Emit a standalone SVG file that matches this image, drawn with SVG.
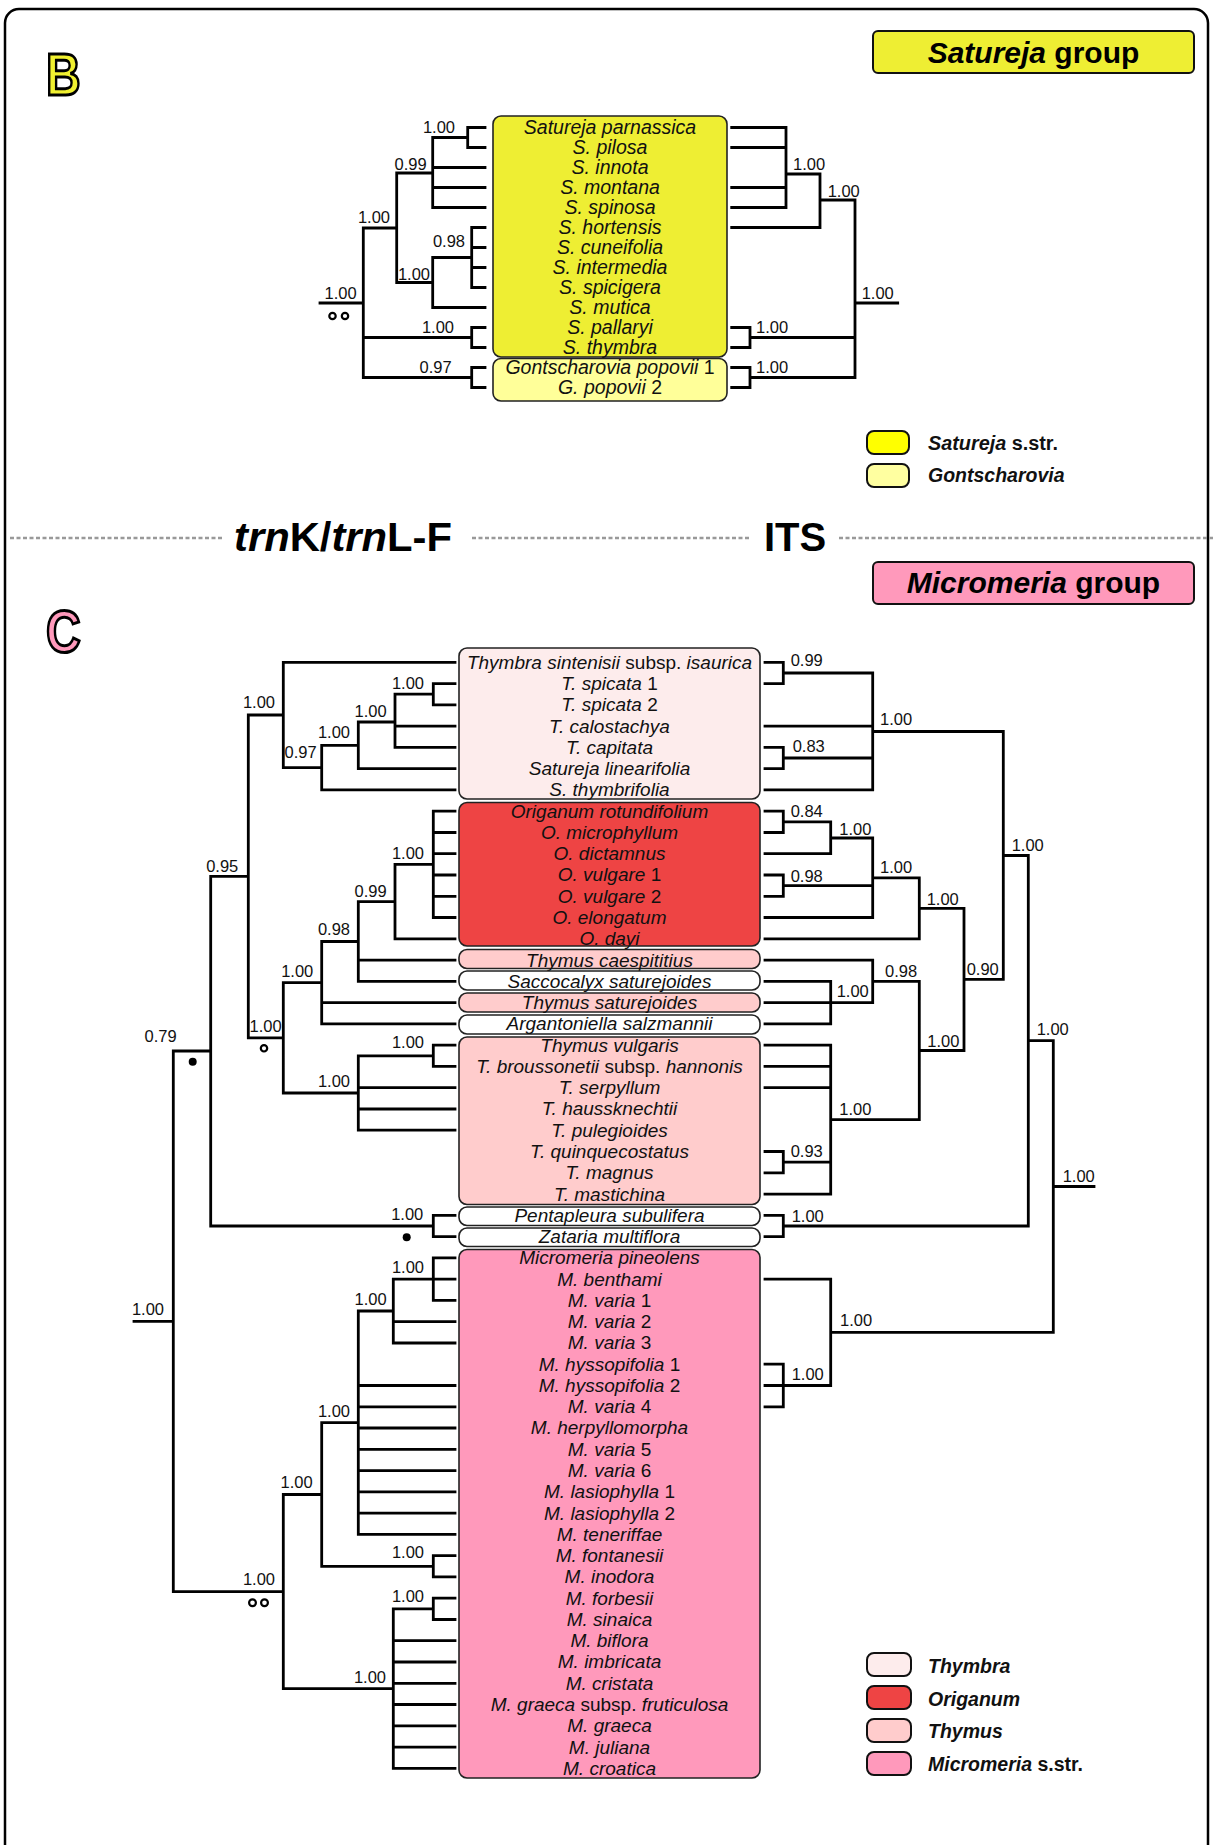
<svg xmlns="http://www.w3.org/2000/svg" width="1213" height="1845" viewBox="0 0 1213 1845">
<style>
.ln{fill:none;stroke:#000;stroke-width:2.8;stroke-linecap:square}
.bx{stroke:#222;stroke-width:1.6}
.tx{font-family:'Liberation Sans',Arial,sans-serif;font-size:19px;font-style:italic;text-anchor:middle;fill:#111}
.tb{font-size:19.5px}
.n{font-style:normal}
.pp{font-family:'Liberation Sans',Arial,sans-serif;font-size:16.5px;fill:#111}
.pe{text-anchor:end}
.lg{font-family:'Liberation Sans',Arial,sans-serif;font-size:19.5px;font-weight:bold;fill:#111}
.it{font-style:italic}
.hd{font-family:'Liberation Sans',Arial,sans-serif;font-weight:bold;fill:#000}
.dash{stroke:#999;stroke-width:2.5;stroke-dasharray:4 2.5;fill:none}
.big{font-family:'Liberation Sans',Arial,sans-serif;font-weight:bold;font-size:60px;stroke:#000;stroke-width:3}
.sym{fill:none;stroke:#000;stroke-width:2.2}
</style>
<rect x="0" y="0" width="1213" height="1845" fill="#fff"/>
<rect x="5" y="9" width="1203" height="1870" rx="14" fill="none" stroke="#000" stroke-width="2.5"/>

<g id="label-B"><text class="big" x="0" y="95" fill="#F0F030" transform="translate(46,0) scale(0.8,1)">B</text></g>
<g id="label-C"><text class="big" x="0" y="652" fill="#FF99BB" transform="translate(46,0) scale(0.8,1)">C</text></g>

<g id="title-satureja-group">
<rect x="873" y="31" width="321" height="42" rx="5" fill="#EEEE33" stroke="#111" stroke-width="2"/>
<text class="hd" x="1033.5" y="63" font-size="30" text-anchor="middle"><tspan class="it">Satureja</tspan> group</text>
</g>
<g id="title-micromeria-group">
<rect x="873" y="562" width="321" height="42" rx="5" fill="#FF99BB" stroke="#111" stroke-width="2"/>
<text class="hd" x="1033.5" y="593" font-size="30" text-anchor="middle"><tspan class="it">Micromeria</tspan> group</text>
</g>

<g id="divider">
<path class="dash" d="M10,538H222M472,538H751M839,538H1213"/>
<text class="hd" x="234" y="551" font-size="40" textLength="218" lengthAdjust="spacingAndGlyphs"><tspan class="it">trn</tspan>K/<tspan class="it">trn</tspan>L-F</text>
<text class="hd" x="764" y="551" font-size="40">ITS</text>
</g>

<g id="legend-B">
<rect x="867" y="431" width="42" height="23" rx="7" fill="#FFFF00" stroke="#111" stroke-width="2"/>
<rect x="867" y="464" width="42" height="23" rx="7" fill="#FFFFA0" stroke="#111" stroke-width="2"/>
<text class="lg" x="928" y="450" textLength="130" lengthAdjust="spacingAndGlyphs"><tspan class="it">Satureja</tspan> s.str.</text>
<text class="lg it" x="928" y="482">Gontscharovia</text>
</g>
<g id="legend-C">
<rect x="867" y="1653" width="44" height="23" rx="7" fill="#FDECEC" stroke="#111" stroke-width="2"/>
<rect x="867" y="1686" width="44" height="23" rx="7" fill="#EE4444" stroke="#111" stroke-width="2"/>
<rect x="867" y="1719" width="44" height="23" rx="7" fill="#FFCCCC" stroke="#111" stroke-width="2"/>
<rect x="867" y="1752" width="44" height="23" rx="7" fill="#FF99BB" stroke="#111" stroke-width="2"/>
<text class="lg it" x="928" y="1673">Thymbra</text>
<text class="lg it" x="928" y="1706">Origanum</text>
<text class="lg it" x="928" y="1738">Thymus</text>
<text class="lg" x="928" y="1771"><tspan class="it">Micromeria</tspan> s.str.</text>
</g>

<!-- B boxes -->
<g id="box-satureja">
<rect class="bx" x="493" y="116" width="234" height="241" rx="8" fill="#EEEE33"/>
<text class="tx tb" x="610" y="134">Satureja parnassica</text>
<text class="tx tb" x="610" y="154">S. pilosa</text>
<text class="tx tb" x="610" y="174">S. innota</text>
<text class="tx tb" x="610" y="194">S. montana</text>
<text class="tx tb" x="610" y="214">S. spinosa</text>
<text class="tx tb" x="610" y="234">S. hortensis</text>
<text class="tx tb" x="610" y="254">S. cuneifolia</text>
<text class="tx tb" x="610" y="274">S. intermedia</text>
<text class="tx tb" x="610" y="294">S. spicigera</text>
<text class="tx tb" x="610" y="314">S. mutica</text>
<text class="tx tb" x="610" y="334">S. pallaryi</text>
<text class="tx tb" x="610" y="354">S. thymbra</text>
</g>
<g id="box-gontscharovia">
<rect class="bx" x="493" y="358.5" width="234" height="42.5" rx="8" fill="#FFFF99"/>
<text class="tx tb" x="610" y="374">Gontscharovia popovii <tspan class="n">1</tspan></text>
<text class="tx tb" x="610" y="394">G. popovii <tspan class="n">2</tspan></text>
</g>

<!-- C boxes -->
<g id="box-thymbra">
<rect class="bx" x="459" y="648" width="301" height="151" rx="8" fill="#FDECEC"/>
<text class="tx" x="609.5" y="668.7">Thymbra sintenisii <tspan class="n">subsp.</tspan> isaurica</text>
<text class="tx" x="609.5" y="690">T. spicata <tspan class="n">1</tspan></text>
<text class="tx" x="609.5" y="711.2">T. spicata <tspan class="n">2</tspan></text>
<text class="tx" x="609.5" y="732.5">T. calostachya</text>
<text class="tx" x="609.5" y="753.8">T. capitata</text>
<text class="tx" x="609.5" y="775.1">Satureja linearifolia</text>
<text class="tx" x="609.5" y="796.3">S. thymbrifolia</text>
</g>
<g id="box-origanum">
<rect class="bx" x="459" y="802.5" width="301" height="143.5" rx="8" fill="#EE4444"/>
<text class="tx" x="609.5" y="817.6">Origanum rotundifolium</text>
<text class="tx" x="609.5" y="838.9">O. microphyllum</text>
<text class="tx" x="609.5" y="860.1">O. dictamnus</text>
<text class="tx" x="609.5" y="881.4">O. vulgare <tspan class="n">1</tspan></text>
<text class="tx" x="609.5" y="902.7">O. vulgare <tspan class="n">2</tspan></text>
<text class="tx" x="609.5" y="923.9">O. elongatum</text>
<text class="tx" x="609.5" y="945.2">O. dayi</text>
</g>
<g id="box-thymus-caespititius">
<rect class="bx" x="459" y="949.5" width="301" height="19" rx="8" fill="#FFCCCC"/>
<text class="tx" x="609.5" y="966.5">Thymus caespititius</text>
</g>
<g id="box-saccocalyx">
<rect class="bx" x="459" y="971" width="301" height="19" rx="8" fill="#FFFFFF"/>
<text class="tx" x="609.5" y="987.8">Saccocalyx saturejoides</text>
</g>
<g id="box-thymus-saturejoides">
<rect class="bx" x="459" y="993" width="301" height="19" rx="8" fill="#FFCCCC"/>
<text class="tx" x="609.5" y="1009">Thymus saturejoides</text>
</g>
<g id="box-argantoniella">
<rect class="bx" x="459" y="1015" width="301" height="19" rx="8" fill="#FFFFFF"/>
<text class="tx" x="609.5" y="1030.3">Argantoniella salzmannii</text>
</g>
<g id="box-thymus">
<rect class="bx" x="459" y="1037" width="301" height="167.5" rx="8" fill="#FFCCCC"/>
<text class="tx" x="609.5" y="1051.6">Thymus vulgaris</text>
<text class="tx" x="609.5" y="1072.8">T. broussonetii <tspan class="n">subsp.</tspan> hannonis</text>
<text class="tx" x="609.5" y="1094.1">T. serpyllum</text>
<text class="tx" x="609.5" y="1115.4">T. haussknechtii</text>
<text class="tx" x="609.5" y="1136.6">T. pulegioides</text>
<text class="tx" x="609.5" y="1157.9">T. quinquecostatus</text>
<text class="tx" x="609.5" y="1179.2">T. magnus</text>
<text class="tx" x="609.5" y="1200.5">T. mastichina</text>
</g>
<g id="box-pentapleura">
<rect class="bx" x="459" y="1207" width="301" height="18.5" rx="8" fill="#FFFFFF"/>
<text class="tx" x="609.5" y="1221.7">Pentapleura subulifera</text>
</g>
<g id="box-zataria">
<rect class="bx" x="459" y="1228" width="301" height="18.5" rx="8" fill="#FFFFFF"/>
<text class="tx" x="609.5" y="1243">Zataria multiflora</text>
</g>
<g id="box-micromeria">
<rect class="bx" x="459" y="1249.5" width="301" height="528.5" rx="8" fill="#FF99BB"/>
<text class="tx" x="609.5" y="1264.3">Micromeria pineolens</text>
<text class="tx" x="609.5" y="1285.5">M. benthami</text>
<text class="tx" x="609.5" y="1306.8">M. varia <tspan class="n">1</tspan></text>
<text class="tx" x="609.5" y="1328.1">M. varia <tspan class="n">2</tspan></text>
<text class="tx" x="609.5" y="1349.4">M. varia <tspan class="n">3</tspan></text>
<text class="tx" x="609.5" y="1370.6">M. hyssopifolia <tspan class="n">1</tspan></text>
<text class="tx" x="609.5" y="1391.9">M. hyssopifolia <tspan class="n">2</tspan></text>
<text class="tx" x="609.5" y="1413.2">M. varia <tspan class="n">4</tspan></text>
<text class="tx" x="609.5" y="1434.4">M. herpyllomorpha</text>
<text class="tx" x="609.5" y="1455.7">M. varia <tspan class="n">5</tspan></text>
<text class="tx" x="609.5" y="1477">M. varia <tspan class="n">6</tspan></text>
<text class="tx" x="609.5" y="1498.2">M. lasiophylla <tspan class="n">1</tspan></text>
<text class="tx" x="609.5" y="1519.5">M. lasiophylla <tspan class="n">2</tspan></text>
<text class="tx" x="609.5" y="1540.8">M. teneriffae</text>
<text class="tx" x="609.5" y="1562">M. fontanesii</text>
<text class="tx" x="609.5" y="1583.3">M. inodora</text>
<text class="tx" x="609.5" y="1604.6">M. forbesii</text>
<text class="tx" x="609.5" y="1625.9">M. sinaica</text>
<text class="tx" x="609.5" y="1647.1">M. biflora</text>
<text class="tx" x="609.5" y="1668.4">M. imbricata</text>
<text class="tx" x="609.5" y="1689.7">M. cristata</text>
<text class="tx" x="609.5" y="1710.9">M. graeca <tspan class="n">subsp.</tspan> fruticulosa</text>
<text class="tx" x="609.5" y="1732.2">M. graeca</text>
<text class="tx" x="609.5" y="1753.5">M. juliana</text>
<text class="tx" x="609.5" y="1774.7">M. croatica</text>
</g>

<g id="connectors">
<path id="tree-B-left" class="ln" d="M320,303H363.3M363.3,228V377.5M363.3,228H396.7M396.7,173V282.5M396.7,173H432.7M432.7,137.5V207.5M432.7,137.5H467.7M467.7,127.5V147.5M467.7,127.5H485M467.7,147.5H485M432.7,167.5H485M432.7,187.5H485M432.7,207.5H485M396.7,282.5H432.7M432.7,257.5V307.5M432.7,257.5H471.7M471.7,227.5V287.5M471.7,227.5H485M471.7,247.5H485M471.7,267.5H485M471.7,287.5H485M432.7,307.5H485M363.3,337.5H471.7M471.7,327.5V347.5M471.7,327.5H485M471.7,347.5H485M363.3,377.5H471.7M471.7,367.5V387.5M471.7,367.5H485M471.7,387.5H485"/>
<path id="tree-B-right" class="ln" d="M731.7,127.5H786M731.7,147.5H786M731.7,187.5H786M731.7,207.5H786M786,127.5V207.5M786,174H820M820,174V227.5M731.7,227.5H820M820,200H855M855,200V377.5M855,303H897.7M731.7,327.5H750M731.7,347.5H750M750,327.5V347.5M750,337.5H855M731.7,367.5H750M731.7,387.5H750M750,367.5V387.5M750,377.5H855"/>
<path id="tree-C-left" class="ln" d="M283.3,662.3H455M283.3,662.3V767.6M248.3,715H283.3M283.3,767.6H321.7M321.7,745.3V789.9M321.7,789.9H455M321.7,745.3H358.3M358.3,722V768.7M358.3,768.7H455M358.3,722H395M395,694.2V747.4M395,726.1H455M395,747.4H455M395,694.2H433.3M433.3,683.6V704.8M433.3,683.6H455M433.3,704.8H455
M248.3,715V1037.9M210.7,876.3H248.3
M433.3,811.2V917.5M433.3,811.2H455M433.3,832.5H455M433.3,853.7H455M433.3,875H455M433.3,896.3H455M433.3,917.5H455M395,864.4H433.3M395,864.4V938.8M395,938.8H455M358.3,901.6H395M358.3,901.6V981.4M358.3,960.1H455M358.3,981.4H455M321.7,941.5H358.3M321.7,941.5V1023.9M321.7,1002.6H455M321.7,1023.9H455M283.3,982.7H321.7M283.3,982.7V1093M248.3,1037.9H283.3M283.3,1093H358.3M358.3,1055.8V1130.2M358.3,1055.8H433.3M433.3,1045.2V1066.4M433.3,1045.2H455M433.3,1066.4H455M358.3,1087.7H455M358.3,1109H455M358.3,1130.2H455
M210.7,876.3V1226M210.7,1226H433.3M433.3,1215.3V1236.6M433.3,1215.3H455M433.3,1236.6H455M173.3,1051H210.7M173.3,1051V1591.6M134,1321.3H173.3
M433.3,1257.9V1300.4M433.3,1257.9H455M433.3,1279.1H455M433.3,1300.4H455M393.3,1279.1H433.3M393.3,1279.1V1343M393.3,1321.7H455M393.3,1343H455M358.3,1311H393.3M358.3,1311V1534.4M358.3,1385.5H455M358.3,1406.8H455M358.3,1428H455M358.3,1449.3H455M358.3,1470.6H455M358.3,1491.8H455M358.3,1513.1H455M358.3,1534.4H455M321.7,1422.7H358.3M321.7,1422.7V1566.3M321.7,1566.3H433.3M433.3,1555.6V1576.9M433.3,1555.6H455M433.3,1576.9H455M283.3,1494.5H321.7M283.3,1494.5V1688.6M173.3,1591.6H283.3M283.3,1688.6H393.3M393.3,1608.9V1768.3M393.3,1608.9H433.3M433.3,1598.2V1619.5M433.3,1598.2H455M433.3,1619.5H455M393.3,1640.7H455M393.3,1662H455M393.3,1683.3H455M393.3,1704.5H455M393.3,1725.8H455M393.3,1747.1H455M393.3,1768.3H455"/>
<path id="tree-C-right" class="ln" d="M765,662.3H783.3M765,683.6H783.3M783.3,662.3V683.6M783.3,673H872.7M765,726.1H872.7M765,747.4H783.3M765,768.7H783.3M783.3,747.4V768.7M783.3,758H872.7M765,789.9H872.7M872.7,673V789.9M872.7,731.5H1003.3
M765,811.2H783.3M765,832.5H783.3M783.3,811.2V832.5M783.3,821.9H830.7M765,853.7H830.7M830.7,821.9V853.7M830.7,838H872.7M765,875H783.3M765,896.3H783.3M783.3,875V896.3M783.3,885.7H872.7M765,917.5H872.7M872.7,838V917.5M872.7,877.8H919.3M765,938.8H919.3M919.3,877.8V938.8M919.3,908.3H964
M765,960.1H872.7M765,981.4H830.7M765,1023.9H830.7M830.7,981.4V1023.9M765,1002.6H872.7M872.7,960.1V1002.6M872.7,981.4H919.3
M765,1045.2H830.7M765,1066.4H830.7M765,1087.7H830.7M765,1151.5H783.3M765,1172.8H783.3M783.3,1151.5V1172.8M783.3,1162.1H830.7M765,1194.1H830.7M830.7,1045.2V1194.1M830.7,1119.6H919.3M919.3,981.4V1119.6M919.3,1050.5H964M964,908.3V1050.5M964,979.4H1003.3M1003.3,731.5V979.4M1003.3,855.5H1028.3
M765,1215.3H783.3M765,1236.6H783.3M783.3,1215.3V1236.6M783.3,1226H1028.3M1028.3,855.5V1226M1028.3,1040.7H1053.3
M765,1279.1H830.7M765,1364.2H783.3M765,1385.5H783.3M765,1406.8H783.3M783.3,1364.2V1406.8M783.3,1385.5H830.7M830.7,1279.1V1385.5M830.7,1332.3H1053.3M1053.3,1040.7V1332.3M1053.3,1186.5H1094"/>

<g id="support-B">
<text class="pp pe" x="455" y="133">1.00</text>
<text class="pp pe" x="426.7" y="170">0.99</text>
<text class="pp pe" x="390" y="223">1.00</text>
<text class="pp pe" x="465" y="246.7">0.98</text>
<text class="pp pe" x="430" y="280">1.00</text>
<text class="pp pe" x="356.7" y="299">1.00</text>
<text class="pp pe" x="454" y="333.3">1.00</text>
<text class="pp pe" x="451.7" y="373.3">0.97</text>
<circle class="sym" cx="332.5" cy="316" r="3.2"/><circle class="sym" cx="345" cy="316" r="3.2"/>
<text class="pp" x="793" y="170">1.00</text>
<text class="pp" x="827.7" y="196.7">1.00</text>
<text class="pp" x="861.7" y="299">1.00</text>
<text class="pp" x="756" y="333.3">1.00</text>
<text class="pp" x="756" y="373.3">1.00</text>
</g>
<g id="support-C">
<text class="pp pe" x="424" y="689.3">1.00</text>
<text class="pp pe" x="386.7" y="716.7">1.00</text>
<text class="pp pe" x="350" y="738.3">1.00</text>
<text class="pp pe" x="316.7" y="758.3">0.97</text>
<text class="pp pe" x="275" y="708.3">1.00</text>
<text class="pp pe" x="424" y="859.3">1.00</text>
<text class="pp pe" x="386.7" y="897.3">0.99</text>
<text class="pp pe" x="350" y="935">0.98</text>
<text class="pp pe" x="313.3" y="976.7">1.00</text>
<text class="pp pe" x="238.3" y="872.3">0.95</text>
<text class="pp pe" x="281.7" y="1031.7">1.00</text>
<circle class="sym" cx="264" cy="1048.3" r="3.2"/>
<text class="pp pe" x="424" y="1048.3">1.00</text>
<text class="pp pe" x="350" y="1086.7">1.00</text>
<text class="pp pe" x="176.7" y="1041.7">0.79</text>
<circle cx="192.7" cy="1061.7" r="4" fill="#000"/>
<text class="pp pe" x="423.3" y="1220">1.00</text>
<circle cx="406.7" cy="1237.3" r="4" fill="#000"/>
<text class="pp pe" x="164" y="1315">1.00</text>
<text class="pp pe" x="424" y="1273.3">1.00</text>
<text class="pp pe" x="386.7" y="1305">1.00</text>
<text class="pp pe" x="350" y="1416.7">1.00</text>
<text class="pp pe" x="312.7" y="1488.3">1.00</text>
<text class="pp pe" x="424" y="1558.3">1.00</text>
<text class="pp pe" x="275" y="1585">1.00</text>
<circle class="sym" cx="252.5" cy="1602.7" r="3.4"/><circle class="sym" cx="264.5" cy="1602.7" r="3.4"/>
<text class="pp pe" x="424" y="1601.7">1.00</text>
<text class="pp pe" x="386" y="1683.3">1.00</text>
<text class="pp" x="790.7" y="666">0.99</text>
<text class="pp" x="880" y="725">1.00</text>
<text class="pp" x="792.7" y="751.7">0.83</text>
<text class="pp" x="790.7" y="816.7">0.84</text>
<text class="pp" x="839.3" y="835">1.00</text>
<text class="pp" x="790.7" y="881.7">0.98</text>
<text class="pp" x="880" y="873.3">1.00</text>
<text class="pp" x="926.7" y="905">1.00</text>
<text class="pp" x="1011.7" y="850.7">1.00</text>
<text class="pp" x="885" y="976.7">0.98</text>
<text class="pp" x="836.7" y="996.7">1.00</text>
<text class="pp" x="966.7" y="975">0.90</text>
<text class="pp" x="927.3" y="1047.3">1.00</text>
<text class="pp" x="839.3" y="1115">1.00</text>
<text class="pp" x="790.7" y="1156.7">0.93</text>
<text class="pp" x="1036.7" y="1035">1.00</text>
<text class="pp" x="791.7" y="1221.7">1.00</text>
<text class="pp" x="1062.7" y="1181.7">1.00</text>
<text class="pp" x="840" y="1326">1.00</text>
<text class="pp" x="791.7" y="1380">1.00</text>
</g>
</g>
</svg>
